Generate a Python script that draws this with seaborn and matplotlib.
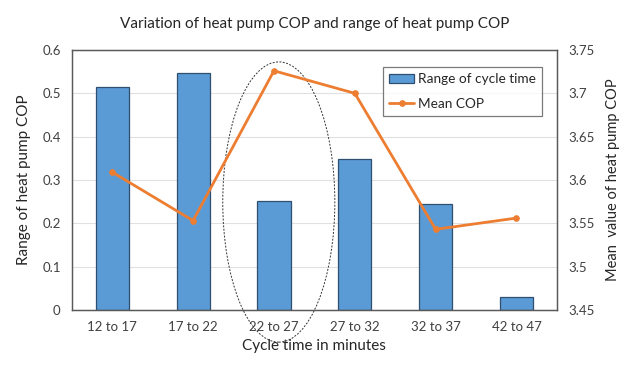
import matplotlib
matplotlib.use("Agg")
import matplotlib.pyplot as plt
from matplotlib.patches import Ellipse
import seaborn as sns
import pandas as pd

categories = ["12 to 17", "17 to 22", "22 to 27", "27 to 32", "32 to 37", "42 to 47"]
range_cycle = [0.515, 0.547, 0.252, 0.348, 0.245, 0.030]
mean_cop = [3.609, 3.553, 3.726, 3.700, 3.543, 3.556]
left_ticks = [0, 0.1, 0.2, 0.3, 0.4, 0.5, 0.6]
right_ticks = [3.45, 3.5, 3.55, 3.6, 3.65, 3.7, 3.75]
right_labels = ["3.45", "3.5", "3.55", "3.6", "3.65", "3.7", "3.75"]

df = pd.DataFrame({"cat": categories, "range": range_cycle, "cop": mean_cop})

sns.set_theme(style="white")
plt.rcParams["font.family"] = ["Lato", "DejaVu Sans"]

fig = plt.figure(figsize=(6.3, 3.65), dpi=100)
ax = fig.add_axes([0.114, 0.151, 0.770, 0.712])

sns.barplot(data=df, x="cat", y="range", color="#5B9BD5", width=0.41,
            edgecolor="#2F4F6F", linewidth=0.9, saturation=1, ax=ax,
            label="Range of cycle time")
if ax.get_legend():
    ax.get_legend().remove()
ax.set_ylim(0, 0.6)
ax.set_yticks(left_ticks)
ax.set_yticklabels(["0", "0.1", "0.2", "0.3", "0.4", "0.5", "0.6"])
ax.yaxis.grid(True, color="#E0E0E0", linewidth=0.8)
ax.set_axisbelow(True)
ax.set_xlim(-0.5, 5.5)
for s in ax.spines.values():
    s.set_color("#595959")
    s.set_linewidth(0.9)

ax2 = ax.twinx()
sns.lineplot(x=list(range(len(categories))), y=mean_cop, color="#ED7D31", linewidth=2,
             marker="o", markersize=4, markeredgecolor="#ED7D31", ax=ax2, label="Mean COP")
ax2.set_ylim(3.45, 3.75)
ax2.set_yticks(right_ticks)
ax2.set_yticklabels(right_labels)
ax2.set_xlim(-0.5, 5.5)
for s in ax2.spines.values():
    s.set_color("#595959")
    s.set_linewidth(0.9)

for a in (ax, ax2):
    a.tick_params(axis="both", length=0, labelsize=9.5, colors="#404040", pad=8)

ax.set_xlabel("Cycle time in minutes", fontsize=11, color="#262626", labelpad=4)
ax.set_ylabel("Range of heat pump COP", fontsize=11, color="#262626", labelpad=8)
ax2.set_ylabel("Mean  value of heat pump COP", fontsize=10.5, color="#262626", labelpad=8)
ax.set_title("Variation of heat pump COP and range of heat pump COP", fontsize=11,
             color="#262626", pad=16)

ell = Ellipse((2.06, 0.249), width=1.386, height=0.647, fill=False,
              edgecolor="#333333", linestyle=(0, (2, 1.5)), linewidth=0.7, clip_on=False)
ax.add_patch(ell)

h1, l1 = ax.get_legend_handles_labels()
h2, l2 = ax2.get_legend_handles_labels()
if ax2.get_legend():
    ax2.get_legend().remove()
leg = ax2.legend(h1 + h2, l1 + l2, loc="upper right", bbox_to_anchor=(0.983, 0.96),
                 fontsize=9.8, frameon=True, fancybox=False, edgecolor="#595959",
                 handlelength=1.8, handletextpad=0.3, borderpad=0.45, labelspacing=0.9)
leg.get_frame().set_linewidth(0.9)

fig.savefig("out.png", dpi=100)
